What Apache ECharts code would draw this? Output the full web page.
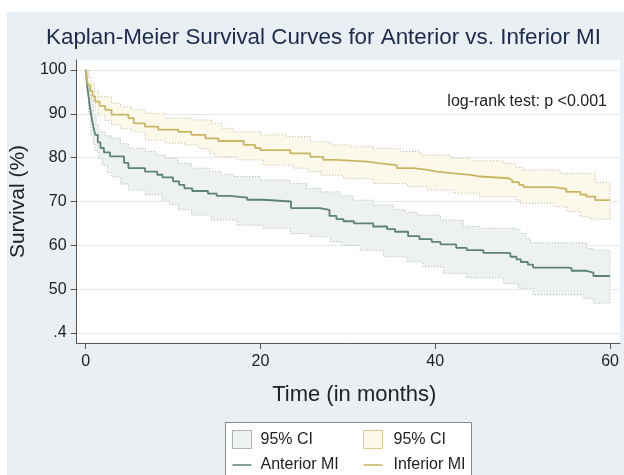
<!DOCTYPE html>
<html><head><meta charset="utf-8">
<script src="https://cdn.jsdelivr.net/npm/echarts@6/dist/echarts.min.js"></script>
<style>html,body{margin:0;padding:0;background:#fff}#c{width:624px;height:475px}</style>
</head><body><div id="c"></div>
<script>
const xTicks = [0, 20, 40, 60];
const yTicks = [40, 50, 60, 70, 80, 90, 100];
const yTickLabels = ['.4', '50', '60', '70', '80', '90', '100'];

const anteriorMI = [[0,100],[0.15,97],[0.3,94.5],[0.5,91.5],[0.7,89],[0.9,87],[1.1,85.2],[1.4,83.5],[1.7,82.2],[2.1,81.2],[2.8,80.3],[4.4,78.8],[4.9,77.6],[6.8,76.8],[8.2,76.1],[8.8,75.5],[10,74.6],[10.7,73.8],[11.3,73],[12.2,72.4],[14,71.8],[15,71.3],[16.5,70.9],[18.5,70.4],[20.3,70.0],[23.5,68.5],[26.8,68.1],[27.9,66.7],[28.7,66.0],[29.5,65.5],[30.7,65.0],[32.9,64.3],[34.5,63.7],[35.4,63.1],[36.9,62.1],[38.2,61.4],[39.6,60.8],[40.6,60.2],[42.4,59.4],[43.6,58.9],[45.5,58.3],[48.2,58.2],[48.6,57.4],[49.3,56.8],[49.8,56.2],[50.6,55.6],[51.2,54.9],[55.3,54.8],[55.6,54.2],[57.3,53.8],[58.1,53.0],[60,53.0]];
const anteriorUpper = [[0,100],[0.3,97],[0.6,93],[0.9,90],[1.2,87.5],[1.5,85.9],[2.2,85],[3,84.4],[4,83.2],[4.9,82.1],[6.8,81.4],[8,80.6],[9.1,79.9],[10.6,78.7],[12.1,77.6],[14.2,76.8],[15.5,76.2],[16.9,75.7],[20,74.9],[23.4,74.1],[25.3,73],[26.9,72.2],[29.1,71.3],[30.6,70.3],[32.9,69.2],[35.2,68.1],[36.5,67.5],[37.9,66.9],[40.6,65.8],[43.2,64.3],[45.1,63.9],[49.4,63.6],[49.7,62.7],[50.4,61.5],[50.9,60.6],[57.3,59.3],[58.1,58.9],[60,58.9]];
const anteriorLower = [[0,100],[0.15,95],[0.34,90],[0.6,85],[0.9,83],[1.1,81.5],[1.5,79.8],[1.9,78.3],[2.5,76.6],[3,75.6],[4,74],[4.9,72.6],[6.8,71.5],[8.7,70.3],[9.6,69.3],[10.6,68.1],[12.1,66.9],[14.4,65.8],[17.3,64.6],[20.3,63.9],[23.4,62.7],[25.7,62],[28,60.8],[29.3,60],[31.4,58.9],[34.1,57.4],[36.8,56.3],[38.6,55.1],[40.9,53.6],[43.6,52.6],[47.8,51.3],[49.5,50.2],[51.2,48.7],[57,47.9],[58.1,46.8],[60,46.8]];

const inferiorMI = [[0,100],[0.1,98],[0.3,96.5],[0.54,95.2],[0.8,94],[1.1,92.8],[1.6,91.8],[2.25,90.9],[2.97,89.8],[4.9,89],[5.5,87.8],[6.8,87.1],[8.3,86.4],[10.6,85.9],[12.1,85.2],[13.7,84.4],[15.2,83.8],[18.1,82.9],[19.4,82.2],[20,81.7],[23.4,81],[25.7,80.2],[27.2,79.5],[28.8,79.1],[32.2,78.7],[33.7,78.3],[35.6,77.6],[37.5,77.2],[39.1,76.8],[40.2,76.4],[42.1,76],[44.3,75.7],[45.1,75.3],[48.4,74.9],[48.8,74.4],[49.6,73.8],[50.1,73.3],[53.5,72.9],[55,72.2],[56.6,71.6],[57.3,71.1],[58.3,70.3],[60,70.3]];
const inferiorUpper = [[0,100],[0.3,98.5],[0.54,97],[1,95.2],[1.49,93.9],[2.97,92.4],[4,91.6],[5.26,90.9],[6.8,90.1],[9.1,89],[12.1,88.6],[14.4,87.8],[15.6,86.7],[16.9,85.9],[20,85.2],[23,84.8],[25.7,83.6],[28,82.9],[30.3,82.5],[32.9,82.1],[36,81.4],[38.3,80.6],[41.7,79.9],[44,79.3],[47.8,78.7],[49.2,77.8],[50.1,77.2],[54.3,76.4],[58.3,74.3],[60,74.3]];
const inferiorLower = [[0,100],[0.2,96.5],[0.45,94.5],[0.69,93.2],[1.1,91],[1.49,89.7],[2.2,88.5],[2.97,87.5],[4,86.6],[5.26,85.9],[6.8,84],[9.1,83.3],[11.4,82.9],[12.9,82.1],[14.2,81],[14.8,80.2],[17.3,79.5],[20.3,78.3],[23.8,77.6],[25.5,76.8],[26.9,76],[29.5,75.2],[32.9,74.1],[36.8,73.4],[39.1,72.6],[42.1,71.9],[45.1,71.1],[49.2,70.4],[49.7,69.6],[53.5,68.8],[55.1,67.7],[56.6,66.5],[57.7,66.0],[60,65.8]];

const legendLabels = { ciA: '95% CI', ciI: '95% CI', 'Anterior MI': 'Anterior MI', 'Inferior MI': 'Inferior MI' };

const FONT = "'Liberation Sans', Arial, sans-serif";
const ANT_COLOR = '#5d8374', INF_COLOR = '#c9b562';
const ANT_FILL = '#edf1f1', INF_FILL = '#fcf9eb';
const LINE_ICON = 'path://M0,0 L20,0 L20,1.6 L0,1.6 Z';

function stepPts(arr, api) {
  const pts = [];
  for (let i = 0; i < arr.length; i++) {
    if (i > 0) pts.push(api.coord([arr[i][0], arr[i - 1][1]]));
    pts.push(api.coord(arr[i]));
  }
  return pts;
}
function bandRender(upper, lower, fill, stroke) {
  return function (params, api) {
    const up = stepPts(upper, api);
    const lo = stepPts(lower, api).reverse();
    const poly = up.concat(lo);
    return {
      type: 'group',
      children: [
        { type: 'polygon', shape: { points: poly }, style: { fill: fill, stroke: null } },
        { type: 'polyline', shape: { points: poly }, style: { fill: null, stroke: stroke, lineWidth: 1, lineDash: [1, 2] } }
      ]
    };
  };
}

const legendBase = {
  orient: 'vertical', top: 430, padding: 0, itemGap: 8, itemWidth: 19, itemHeight: 18,
  textStyle: { fontSize: 16, color: '#222', fontFamily: FONT, padding: [0, 0, 0, 4] },
  formatter: n => legendLabels[n]
};

const chart = echarts.init(document.getElementById('c'), null, { renderer: 'canvas' });
chart.setOption({
  animation: false,
  backgroundColor: '#e9eff3',
  textStyle: { fontFamily: FONT },
  title: {
    text: 'Kaplan-Meier Survival Curves for Anterior vs. Inferior MI',
    left: 41, top: 22,
    textStyle: { fontSize: 22.4, fontWeight: 'normal', color: '#1c2a4c', fontFamily: FONT }
  },
  graphic: [
    { type: 'rect', shape: { x: 0, y: 0, width: 624, height: 12 }, style: { fill: '#fff' }, silent: true },
    { type: 'rect', shape: { x: 0, y: 0, width: 7, height: 475 }, style: { fill: '#fff' }, silent: true },
    { type: 'rect', z: 1, shape: { x: 225.5, y: 422.5, width: 246, height: 70 }, style: { fill: '#fff', stroke: '#888', lineWidth: 1 }, silent: true },
    { type: 'text', x: 607, y: 102, z: 10, style: { text: 'log-rank test: p <0.001', fill: '#222', font: '16px ' + FONT, align: 'right', verticalAlign: 'middle' } }
  ],
  grid: { left: 76, right: 4, top: 60, bottom: 132, show: true, backgroundColor: '#fff', borderWidth: 0 },
  legend: [
    Object.assign({}, legendBase, {
      left: 232,
      data: [
        { name: 'ciA', icon: 'rect', itemStyle: { color: ANT_FILL, borderColor: '#aab3b2', borderWidth: 1 } },
        { name: 'Anterior MI', icon: LINE_ICON, itemStyle: { color: ANT_COLOR } }
      ]
    }),
    Object.assign({}, legendBase, {
      left: 363,
      textStyle: { fontSize: 16, color: '#222', fontFamily: FONT, padding: [0, 0, 0, 6] },
      data: [
        { name: 'ciI', icon: 'rect', itemStyle: { color: INF_FILL, borderColor: '#d6c98e', borderWidth: 1 } },
        { name: 'Inferior MI', icon: LINE_ICON, itemStyle: { color: INF_COLOR } }
      ]
    })
  ],
  xAxis: {
    type: 'value', min: -1.03, max: 61.14,
    axisLine: { show: true, onZero: false, lineStyle: { color: '#555', width: 1 } },
    axisTick: { show: true, length: 6, customValues: xTicks, lineStyle: { color: '#555' } },
    axisLabel: { customValues: xTicks, fontSize: 16, color: '#222', margin: 11, fontFamily: FONT },
    splitLine: { show: false },
    name: 'Time (in months)', nameLocation: 'middle', nameGap: 41,
    nameTextStyle: { fontSize: 22, color: '#222', fontFamily: FONT, padding: [0, 0, 0, 12] }
  },
  yAxis: {
    type: 'value', min: 37.72, max: 102.28,
    axisLine: { show: true, onZero: false, lineStyle: { color: '#555', width: 1 } },
    axisTick: { show: true, length: 6, customValues: yTicks, lineStyle: { color: '#555' } },
    axisLabel: { customValues: yTicks, formatter: v => yTickLabels[yTicks.indexOf(v)], fontSize: 16, color: '#222', margin: 10, fontFamily: FONT },
    splitLine: { show: true, lineStyle: { color: '#e3e9ee', width: 1 } },
    name: 'Survival (%)', nameLocation: 'middle', nameGap: 43,
    nameTextStyle: { fontSize: 21, color: '#222', fontFamily: FONT }
  },
  series: [
    { type: 'custom', name: 'ciA', renderItem: bandRender(anteriorUpper, anteriorLower, ANT_FILL, '#a9b1b0'), data: [[0, 100]], encode: { x: 0, y: 1 }, itemStyle: { color: ANT_FILL }, z: 1, silent: true },
    { type: 'custom', name: 'ciI', renderItem: bandRender(inferiorUpper, inferiorLower, INF_FILL, '#b9b59c'), data: [[0, 100]], encode: { x: 0, y: 1 }, itemStyle: { color: INF_FILL }, z: 1, silent: true },
    { type: 'line', name: 'Anterior MI', data: anteriorMI, step: 'end', symbol: 'none', showSymbol: false, lineStyle: { color: ANT_COLOR, width: 1.8 }, itemStyle: { color: ANT_COLOR }, z: 5 },
    { type: 'line', name: 'Inferior MI', data: inferiorMI, step: 'end', symbol: 'none', showSymbol: false, lineStyle: { color: INF_COLOR, width: 1.8 }, itemStyle: { color: INF_COLOR }, z: 5 }
  ]
});
</script></body></html>
